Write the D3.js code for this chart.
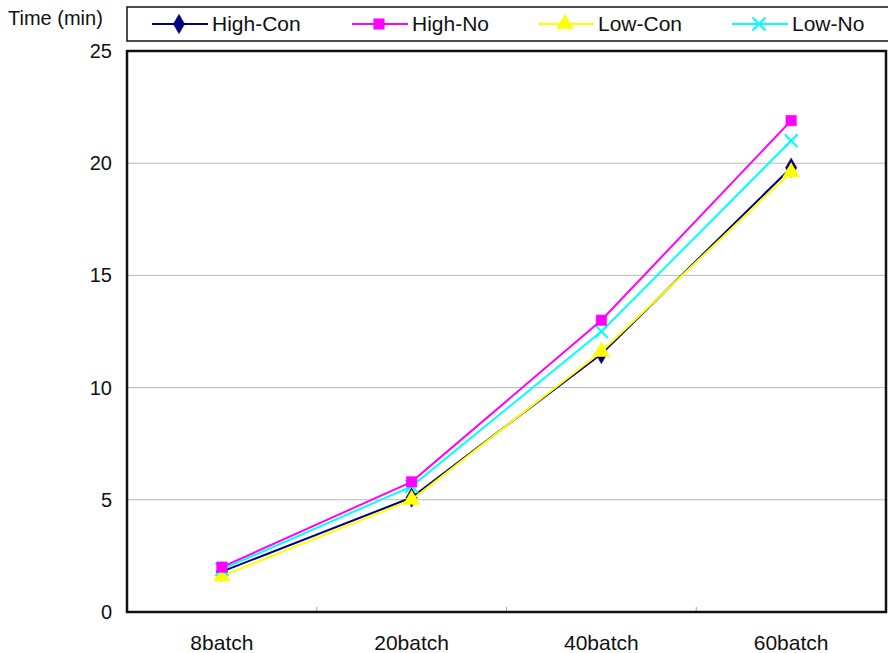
<!DOCTYPE html>
<html>
<head>
<meta charset="utf-8">
<script src="https://cdn.jsdelivr.net/npm/d3@7"></script>
<style>
  body { margin: 0; background: #fff; }
  text { font-family: "Liberation Sans", Arial, sans-serif; fill: #111; }
</style>
</head>
<body>
<div id="chart"></div>
<script>
var categories = ["8batch", "20batch", "40batch", "60batch"];
var seriesNames = ["High-Con", "High-No", "Low-Con", "Low-No"];
var highCon = [1.8, 5.1, 11.5, 19.8];
var highNo = [2.0, 5.8, 13.0, 21.9];
var lowCon = [1.6, 5.0, 11.6, 19.6];
var lowNo = [1.9, 5.6, 12.5, 21.0];
var yTicks = [0, 5, 10, 15, 20, 25];

var colors = ["#000080", "#ff00ff", "#ffff00", "#00ffff"];
var symbols = [d3.symbolDiamond, d3.symbolSquare, d3.symbolTriangle, d3.symbolX];

var width = 888, height = 653;
var margin = {top: 51, right: 2, bottom: 41, left: 127};

var svg = d3.select("#chart")
    .append("svg")
    .attr("width", width)
    .attr("height", height);

var x = d3.scaleBand()
    .domain(categories)
    .range([margin.left, width - margin.right]);

var y = d3.scaleLinear()
    .domain([0, 25])
    .range([height - margin.bottom, margin.top]);

// grid lines
svg.selectAll(".grid")
    .data(yTicks.filter(function(d) { return d > 0 && d < 25; }))
    .enter().append("line")
    .attr("x1", margin.left).attr("x2", width - margin.right)
    .attr("y1", function(d) { return y(d); })
    .attr("y2", function(d) { return y(d); })
    .attr("stroke", "#b8b8b8")
    .attr("stroke-width", 1);

// y labels
svg.selectAll(".ylab")
    .data(yTicks)
    .enter().append("text")
    .attr("x", 112)
    .attr("y", function(d) { return y(d); })
    .attr("dy", "0.35em")
    .attr("text-anchor", "end")
    .style("font-size", "20px")
    .text(function(d) { return d; });

// x labels and tick marks between categories
svg.selectAll(".xlab")
    .data(categories)
    .enter().append("text")
    .attr("x", function(d) { return x(d) + x.bandwidth() / 2; })
    .attr("y", height - margin.bottom + 38)
    .attr("text-anchor", "middle")
    .style("font-size", "21px")
    .text(function(d) { return d; });

svg.selectAll(".xtick")
    .data(categories.slice(1))
    .enter().append("line")
    .attr("x1", function(d) { return x(d); })
    .attr("x2", function(d) { return x(d); })
    .attr("y1", y(0) - 5).attr("y2", y(0))
    .attr("stroke", "#aaa");

// plot frame
svg.append("rect")
    .attr("x", margin.left).attr("y", margin.top)
    .attr("width", width - margin.right - margin.left)
    .attr("height", y(0) - margin.top)
    .attr("fill", "none")
    .attr("stroke", "#111")
    .attr("stroke-width", 2.5);

svg.append("text")
    .attr("x", 8).attr("y", 25)
    .style("font-size", "20px")
    .text("Time (min)");

var allSeries = [highCon, highNo, lowCon, lowNo];
var line = d3.line()
    .x(function(d, i) { return x(categories[i]) + x.bandwidth() / 2; })
    .y(function(d) { return y(d); });

function marker(g, i, cx, cy) {
    var size = [110, 110, 120, 110][i];
    g.append("path")
        .attr("d", d3.symbol().type(symbols[i]).size(size)())
        .attr("transform", "translate(" + cx + "," + cy + ")")
        .attr("fill", i === 3 ? "none" : colors[i])
        .attr("stroke", colors[i])
        .attr("stroke-width", i === 3 ? 2 : 0.5);
}

// draw order so the overlaps look like the original
[0, 2, 3, 1].forEach(function(i) {
    var g = svg.append("g");
    g.append("path")
        .datum(allSeries[i])
        .attr("d", line)
        .attr("fill", "none")
        .attr("stroke", colors[i])
        .attr("stroke-width", 2);
    allSeries[i].forEach(function(v, j) {
        marker(g, i, x(categories[j]) + x.bandwidth() / 2, y(v));
    });
});

// legend
var legend = svg.append("g");
legend.append("rect")
    .attr("x", 127).attr("y", 7)
    .attr("width", 770).attr("height", 34)
    .attr("fill", "#fff")
    .attr("stroke", "#111")
    .attr("stroke-width", 1.5);

var legendX = [152, 352, 538, 732];
seriesNames.forEach(function(name, i) {
    var lx = legendX[i];
    legend.append("line")
        .attr("x1", lx).attr("x2", lx + 56)
        .attr("y1", 24).attr("y2", 24)
        .attr("stroke", colors[i])
        .attr("stroke-width", 2);
    marker(legend, i, lx + 27, 24);
    legend.append("text")
        .attr("x", lx + 60).attr("y", 24)
        .attr("dy", "0.35em")
        .style("font-size", "21px")
        .text(name);
});
</script>
</body>
</html>
